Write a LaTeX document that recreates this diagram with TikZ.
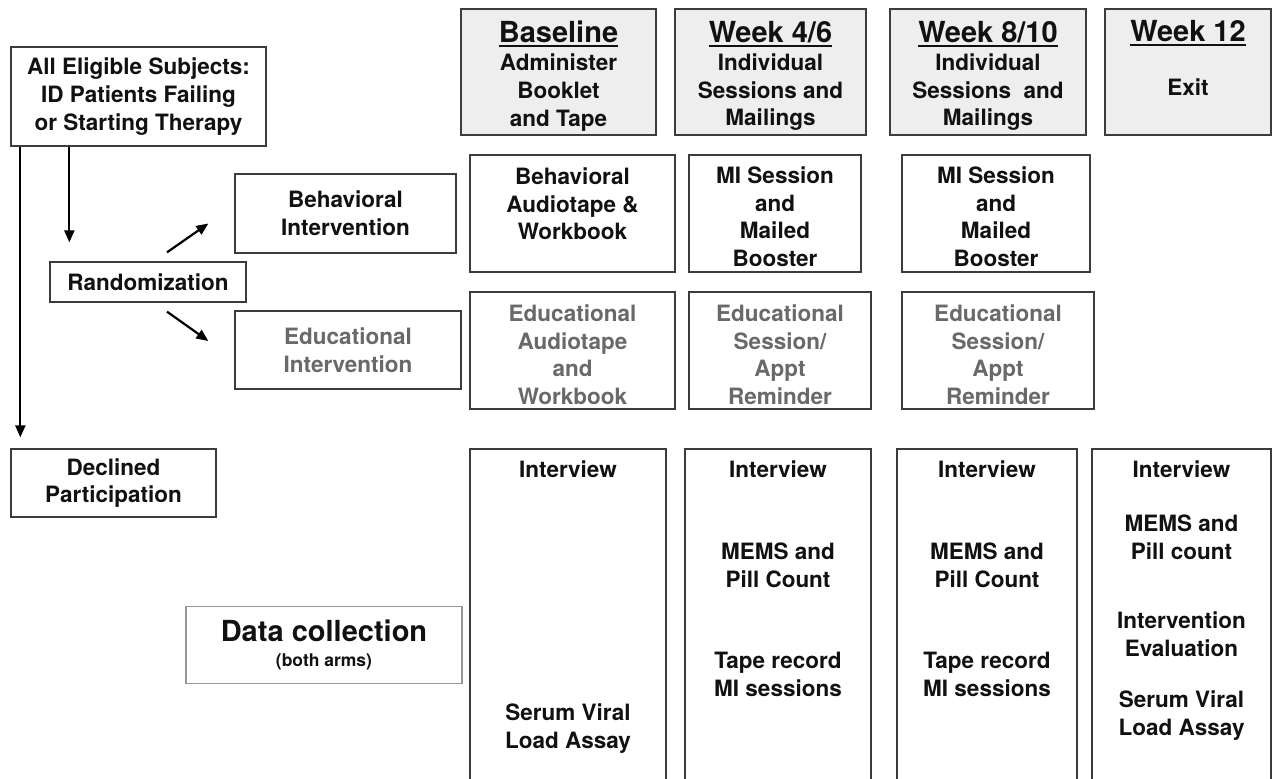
\documentclass[tikz,border=0pt]{standalone}
\usepackage{fontspec}
\setmainfont{TeX Gyre Heros}
\usetikzlibrary{arrows.meta,calc}
\definecolor{hdr}{RGB}{238,238,238}
\definecolor{edge}{RGB}{60,60,60}
\definecolor{soft}{RGB}{150,150,150}
\definecolor{txt}{RGB}{17,17,17}
\definecolor{gtxt}{RGB}{105,105,105}
\newcommand{\bodyfont}{\bfseries\fontsize{22.5}{27.7}\selectfont}
\newcommand{\titlefont}{\bfseries\fontsize{29}{31}\selectfont}
\newcommand{\ulbar}[1]{\setbox0\hbox{#1}\rlap{\rule[-4.5pt]{\wd0}{2.2pt}}\box0}
\begin{document}
\begin{tikzpicture}[x=1pt,y=-1pt,
 box/.style={draw=edge,line width=1.3pt,rectangle,align=center,inner sep=0pt,text=txt,font=\bodyfont},
 hbox/.style={box,fill=hdr},
 gbox/.style={box,text=gtxt},
 lbl/.style={align=center,inner sep=0pt,text=txt,font=\bodyfont},
 arr/.style={line width=2.2pt,-{Triangle[length=12pt,width=10pt]}},
]
\clip (0,0) rectangle (1275,779);
\fill[white] (0,0) rectangle (1275,779);

% left column
\node[box,minimum width=255,minimum height=99] (elig) at (138.5,96.5) {All Eligible Subjects:\\ID Patients Failing\\or Starting Therapy};
\node[box,minimum width=196,minimum height=40] (rand) at (148,282) {Randomization};
\node[box,minimum width=221,minimum height=79] (beh) at (345.5,213.5) {Behavioral\\Intervention};
\node[gbox,minimum width=226,minimum height=78] (edu) at (348,350) {Educational\\Intervention};
\node[box,minimum width=205,minimum height=68] (decl) at (113.5,483) {Declined\\Participation};
\node[box,draw=soft,minimum width=276,minimum height=77] (data) at (324,645) {{\bfseries\fontsize{29}{32}\selectfont Data collection}\\[-2pt]{\bfseries\fontsize{17.5}{20}\selectfont (both arms)}};

% headers
\node[hbox,minimum width=195,minimum height=126] (h1) at (558.5,72) {{\titlefont\ulbar{Baseline}}\\Administer\\Booklet\\and Tape\\[-31pt]};
\node[hbox,minimum width=191,minimum height=126] (h2) at (770.5,72) {{\titlefont\ulbar{Week 4/6}}\\Individual\\Sessions and\\Mailings\\[-31pt]};
\node[hbox,minimum width=196,minimum height=126] (h3) at (988,72) {{\titlefont\ulbar{Week 8/10}}\\Individual\\Sessions\ \ and\\Mailings\\[-31pt]};
\node[hbox,minimum width=166,minimum height=126] (h4) at (1188,72) {{\titlefont\ulbar{Week 12}}\\[26pt]Exit\\[0pt]};

% behavioral row
\node[box,minimum width=205,minimum height=117] (b1) at (572.5,213.5) {Behavioral\\Audiotape \&\\Workbook\\[-8pt]};
\node[box,minimum width=172,minimum height=117] (b2) at (775,213.5) {MI Session\\and\\Mailed\\Booster\\[-34pt]};
\node[box,minimum width=188,minimum height=117] (b3) at (996,213.5) {MI Session\\and\\Mailed\\Booster\\[-34pt]};

% educational row
\node[gbox,minimum width=205,minimum height=117] (e1) at (572.5,350.5) {Educational\\Audiotape\\and\\Workbook\\[-36pt]};
\node[gbox,minimum width=182,minimum height=117] (e2) at (780,350.5) {Educational\\Session/\\Appt\\Reminder\\[-36pt]};
\node[gbox,minimum width=192,minimum height=117] (e3) at (998,350.5) {Educational\\Session/\\Appt\\Reminder\\[-36pt]};

% data collection columns (open below the picture's edge)
\node[box,minimum width=196,minimum height=360] (c1) at (568,629) {};
\node[box,minimum width=186,minimum height=360] (c2) at (778,629) {};
\node[box,minimum width=180,minimum height=360] (c3) at (987,629) {};
\node[box,minimum width=179,minimum height=360] (c4) at (1181.5,629) {};

\node[lbl] (c1a) at (568,469) {Interview};
\node[lbl] (c1b) at (568,728.5) {Serum Viral\\Load Assay};
\node[lbl] (c2a) at (778,469) {Interview};
\node[lbl] (c2b) at (778,565) {MEMS and\\Pill Count};
\node[lbl] (c2c) at (778,674.5) {Tape record\\MI sessions};
\node[lbl] (c3a) at (987,469) {Interview};
\node[lbl] (c3b) at (987,565) {MEMS and\\Pill Count};
\node[lbl] (c3c) at (987,674.5) {Tape record\\MI sessions};
\node[lbl] (c4a) at (1181.5,469) {Interview};
\node[lbl] (c4b) at (1181.5,537.5) {MEMS and\\Pill count};
\node[lbl] (c4c) at (1181.5,634) {Intervention\\Evaluation};
\node[lbl] (c4d) at (1181.5,715.5) {Serum Viral\\Load Assay};

% connectors
\coordinate (a1) at ($(elig.south west)+(10,0)$);
\coordinate (a2) at ($(elig.south west)+(59,0)$);
\draw[arr,shorten >=11pt] (a1) -- (a1 |- decl.north);
\draw[arr,shorten >=19pt] (a2) -- (a2 |- rand.north);
\draw[arr] ($(rand.north)+(19,-9)$) -- ($(beh.west)+(-26,10)$);
\draw[arr] ($(rand.south)+(19,9)$) -- ($(edu.west)+(-26,-9)$);
\end{tikzpicture}
\end{document}
